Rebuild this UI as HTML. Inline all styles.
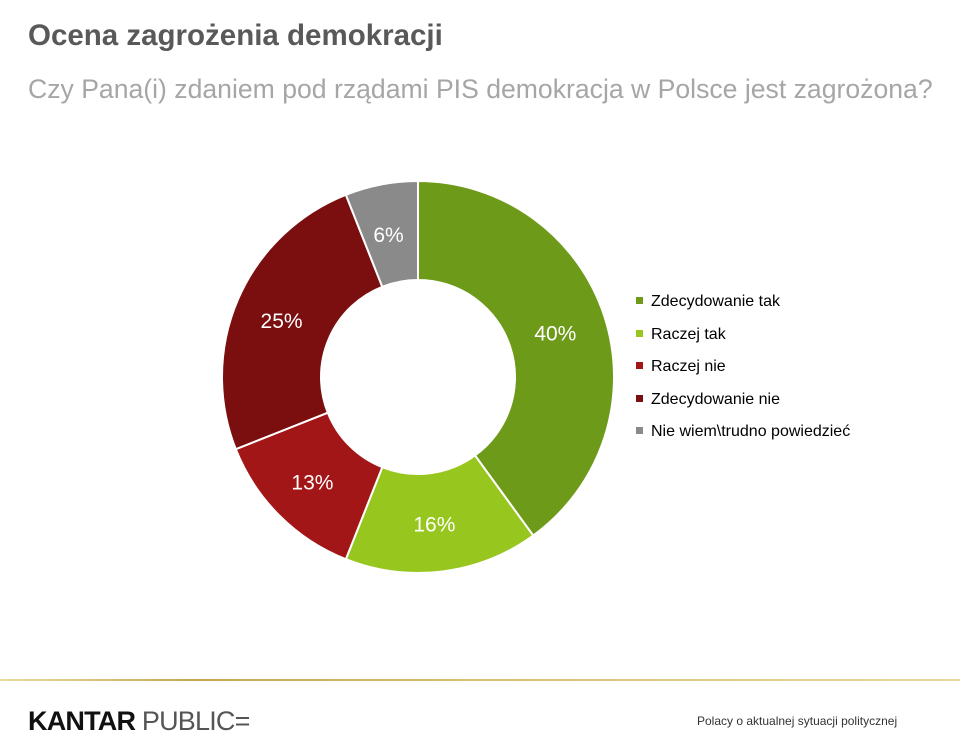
<!DOCTYPE html>
<html><head><meta charset="utf-8"><style>
body{margin:0;width:960px;height:747px;background:#fff;font-family:"Liberation Sans",Arial,sans-serif;overflow:hidden;position:relative}
.t{position:absolute;left:28px;top:19px;font-size:29.5px;font-weight:bold;color:#595959}
.s{position:absolute;left:28px;top:74px;font-size:26.6px;color:#a6a6a6}
.leg{position:absolute;left:636px;font-size:16px;color:#000}
.leg i{display:inline-block;width:7px;height:7px;margin-right:8px;vertical-align:2px}
.line{position:absolute;left:0;top:679px;width:960px;height:2px;background:linear-gradient(90deg,#e8dca0,#c8a850 20%,#d8c070 50%,#e8d8a0)}
.k{position:absolute;left:28px;top:706px;font-size:27px;letter-spacing:-0.8px}
.f{position:absolute;left:697px;top:714px;font-size:12px;color:#333}
</style></head><body>
<div class="t">Ocena zagrożenia demokracji</div>
<div class="s">Czy Pana(i) zdaniem pod rządami PIS demokracja w Polsce jest zagrożona?</div>
<svg id="c" width="960" height="747" style="position:absolute;left:0;top:0"></svg>
<div id="legend"></div>
<div class="line"></div>
<div class="k"><b style="color:#111">KANTAR</b> <span style="color:#555">PUBLIC=</span></div>
<div class="f">Polacy o aktualnej sytuacji politycznej</div>
<script>
const categories=["Zdecydowanie tak","Raczej tak","Raczej nie","Zdecydowanie nie","Nie wiem\\trudno powiedzieć"];
const values=[40,16,13,25,6];
const colors=["#6e9a1a","#97c71f","#a31617","#7b0f0f","#8a8a8a"];
const svg=document.getElementById('c'),NS="http://www.w3.org/2000/svg";
const cx=418,cy=377,R=196,r=97;
const total=values.reduce((a,b)=>a+b,0);
let a0=0;
function pt(rad,a){return [cx+rad*Math.sin(a),cy-rad*Math.cos(a)];}
values.forEach((v,i)=>{
  const a1=a0+v/total*2*Math.PI,lg=(a1-a0)>Math.PI?1:0;
  const p1=pt(R,a0),p2=pt(R,a1),p3=pt(r,a1),p4=pt(r,a0);
  const p=document.createElementNS(NS,'path');
  p.setAttribute('d',`M${p1}A${R},${R} 0 ${lg} 1 ${p2}L${p3}A${r},${r} 0 ${lg} 0 ${p4}Z`);
  p.setAttribute('fill',colors[i]);p.setAttribute('stroke','#fff');p.setAttribute('stroke-width','2');
  
  
  svg.appendChild(p);
  const m=pt((R+r)/2,(a0+a1)/2);
  const t=document.createElementNS(NS,'text');
  t.setAttribute('x',m[0]-2);t.setAttribute('y',m[1]+9);t.setAttribute('text-anchor','middle');
  t.setAttribute('font-size','21');t.setAttribute('fill','#fff');t.setAttribute('font-family','Liberation Sans, sans-serif');
  t.textContent=v+'%';
  
  
  svg.appendChild(t);
  a0=a1;
});
const lg=document.getElementById('legend');
categories.forEach((c,i)=>{
  const d=document.createElement('div');d.className='leg';d.style.top=(293+i*32.5)+'px';
  d.innerHTML=`<i style="background:${colors[i]}"></i>`;
  d.appendChild(document.createTextNode(c));
  
  
  lg.appendChild(d);
});
</script>
</body></html>
